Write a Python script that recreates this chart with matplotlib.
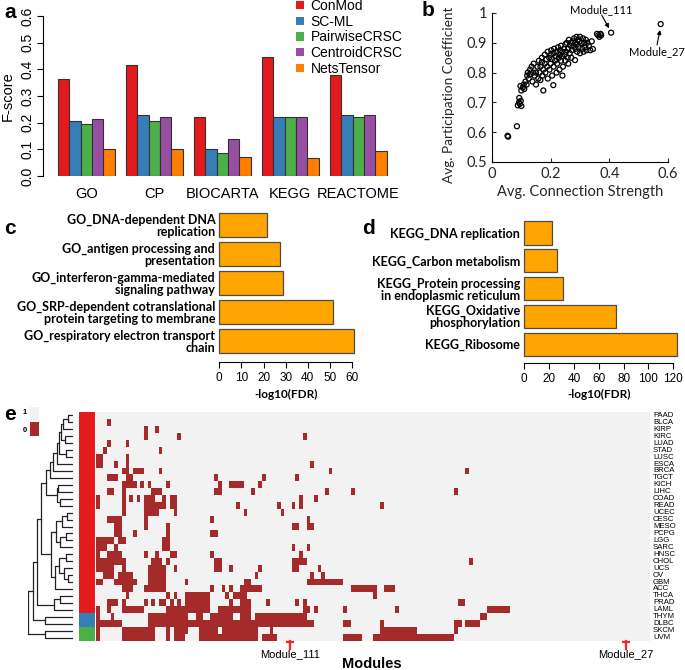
import matplotlib
matplotlib.use('Agg')
import matplotlib.pyplot as plt
import numpy as np
from matplotlib.colors import ListedColormap
from matplotlib.patches import Patch, Rectangle

plt.rcParams['font.family'] = ['Liberation Sans', 'DejaVu Sans']

# ---------------- data ----------------
# panel a
categories = ['GO', 'CP', 'BIOCARTA', 'KEGG', 'REACTOME']
methods = ['ConMod', 'SC-ML', 'PairwiseCRSC', 'CentroidCRSC', 'NetsTensor']
method_colors = ['#E41A1C', '#377EB8', '#4DAF4A', '#984EA3', '#FF7F00']
conmod = [0.364, 0.415, 0.223, 0.445, 0.377]
sc_ml = [0.206, 0.229, 0.102, 0.221, 0.229]
pairwise = [0.196, 0.208, 0.085, 0.220, 0.220]
centroid = [0.213, 0.223, 0.138, 0.221, 0.229]
netstensor = [0.102, 0.100, 0.071, 0.069, 0.094]

# panel b
conn_strength = [0.053, 0.055, 0.085, 0.088, 0.092, 0.095, 0.098, 0.100, 0.093, 0.097,
                 0.100, 0.105, 0.108, 0.110, 0.114, 0.118, 0.120, 0.122, 0.125, 0.130,
                 0.130, 0.135, 0.138, 0.140, 0.142, 0.145, 0.150, 0.150, 0.155, 0.158,
                 0.160, 0.162, 0.165, 0.165, 0.170, 0.170, 0.172, 0.175, 0.175, 0.180,
                 0.180, 0.182, 0.185, 0.188, 0.190, 0.190, 0.195, 0.196, 0.200, 0.200,
                 0.202, 0.205, 0.205, 0.210, 0.210, 0.212, 0.215, 0.209, 0.218, 0.220,
                 0.220, 0.222, 0.225, 0.228, 0.230, 0.230, 0.232, 0.235, 0.235, 0.238,
                 0.240, 0.240, 0.242, 0.245, 0.248, 0.250, 0.250, 0.252, 0.255, 0.258,
                 0.260, 0.260, 0.262, 0.265, 0.268, 0.270, 0.270, 0.272, 0.275, 0.278,
                 0.280, 0.283, 0.283, 0.285, 0.288, 0.290, 0.290, 0.293, 0.295, 0.298,
                 0.300, 0.300, 0.305, 0.308, 0.310, 0.312, 0.315, 0.318, 0.320, 0.322,
                 0.325, 0.330, 0.335, 0.340, 0.344, 0.358, 0.362, 0.366, 0.372, 0.370,
                 0.406, 0.575]
part_coef = [0.588, 0.585, 0.620, 0.690, 0.700, 0.695, 0.705, 0.688, 0.715, 0.755,
             0.740, 0.750, 0.760, 0.745, 0.770, 0.760, 0.790, 0.800, 0.780, 0.810,
             0.795, 0.820, 0.770, 0.800, 0.830, 0.790, 0.800, 0.760, 0.820, 0.780,
             0.840, 0.800, 0.775, 0.820, 0.835, 0.850, 0.790, 0.810, 0.740, 0.830,
             0.860, 0.800, 0.845, 0.820, 0.870, 0.780, 0.850, 0.810, 0.830, 0.860,
             0.875, 0.790, 0.845, 0.820, 0.865, 0.880, 0.840, 0.758, 0.855, 0.870,
             0.800, 0.830, 0.885, 0.850, 0.860, 0.810, 0.875, 0.840, 0.890, 0.855,
             0.870, 0.790, 0.820, 0.880, 0.860, 0.895, 0.840, 0.870, 0.900, 0.850,
             0.880, 0.830, 0.910, 0.865, 0.890, 0.900, 0.850, 0.875, 0.905, 0.890,
             0.915, 0.842, 0.900, 0.880, 0.920, 0.895, 0.870, 0.910, 0.885, 0.905,
             0.920, 0.865, 0.900, 0.880, 0.915, 0.870, 0.900, 0.885, 0.910, 0.875,
             0.900, 0.890, 0.875, 0.905, 0.879, 0.930, 0.925, 0.920, 0.925, 0.930,
             0.934, 0.963]

# panel c
go_terms = ['GO_DNA-dependent DNA\nreplication',
            'GO_antigen processing and\npresentation',
            'GO_interferon-gamma-mediated\nsignaling pathway',
            'GO_SRP-dependent cotranslational\nprotein targeting to membrane',
            'GO_respiratory electron transport\nchain']
go_fdr = [21.4, 27.4, 28.6, 51.5, 61.0]

# panel d
kegg_terms = ['KEGG_DNA replication',
              'KEGG_Carbon metabolism',
              'KEGG_Protein processing\nin endoplasmic reticulum',
              'KEGG_Oxidative\nphosphorylation',
              'KEGG_Ribosome']
kegg_fdr = [22.5, 26.0, 31.4, 73.6, 122.7]

# panel e
cancers = ['PAAD', 'BLCA', 'KIRP', 'KIRC', 'LUAD', 'STAD', 'LUSC', 'ESCA', 'BRCA', 'TGCT',
           'KICH', 'LIHC', 'COAD', 'READ', 'UCEC', 'CESC', 'MESO', 'PCPG', 'LGG', 'SARC',
           'HNSC', 'CHOL', 'UCS', 'OV', 'GBM', 'ACC', 'THCA', 'PRAD', 'LAML', 'THYM',
           'DLBC', 'SKCM', 'UVM']
cancer_group = [0] * 29 + [1, 1, 2, 2]
n_modules = 150
# runs of modules (first, last) where the cancer type has value 0 (dark red)
zero_runs = [
    [],
    [(3, 3)],
    [(13, 13), (16, 16)],
    [(13, 13), (22, 22), (56, 56)],
    [(3, 3), (8, 8)],
    [(2, 2), (17, 17)],
    [(0, 1), (8, 8)],
    [(0, 1), (5, 5), (8, 8), (58, 58)],
    [(7, 8), (10, 12), (17, 17), (63, 63), (100, 100)],
    [(3, 5), (8, 9), (32, 32), (45, 45), (54, 54)],
    [(7, 10), (12, 12), (14, 14), (19, 19), (33, 33), (36, 39), (44, 44)],
    [(3, 4), (7, 7), (15, 17), (32, 33), (42, 42), (62, 62), (69, 69), (97, 97)],
    [(0, 0), (7, 7), (9, 9), (11, 11), (13, 15), (18, 18), (20, 21), (55, 55), (59, 59)],
    [(0, 0), (7, 7), (13, 18), (20, 21), (38, 38), (49, 49), (53, 53), (55, 55), (77, 77)],
    [(7, 7), (13, 16), (21, 21), (40, 40), (50, 50)],
    [(3, 6), (13, 13), (31, 31), (57, 57)],
    [(5, 6), (13, 13), (19, 19), (53, 54), (57, 58)],
    [(5, 6), (10, 10), (19, 19), (31, 32)],
    [(0, 4), (6, 7), (18, 19)],
    [(0, 2), (5, 5), (18, 19), (53, 53), (57, 57)],
    [(0, 0), (3, 6), (13, 13), (16, 16), (20, 21), (31, 31), (55, 55)],
    [(0, 7), (15, 17), (19, 19), (32, 33), (53, 56), (101, 101)],
    [(0, 4), (7, 7), (14, 18), (21, 21), (32, 33), (36, 36), (44, 44), (53, 54), (60, 60)],
    [(2, 4), (6, 9), (14, 18), (43, 43), (58, 58), (61, 61)],
    [(0, 1), (5, 10), (14, 18), (24, 24), (40, 41), (57, 66)],
    [(7, 9), (13, 18), (31, 31), (34, 34), (36, 36), (39, 44), (69, 75), (78, 80)],
    [(8, 8), (19, 19), (21, 21), (24, 30), (35, 35), (37, 40), (75, 75)],
    [(3, 5), (7, 7), (13, 13), (15, 15), (17, 18), (20, 20), (22, 22), (24, 30), (36, 36),
     (39, 41), (46, 46), (54, 54), (56, 56), (98, 99)],
    [(0, 0), (3, 3), (7, 12), (19, 30), (33, 41), (56, 57), (59, 59), (67, 67), (81, 81),
     (106, 111)],
    [(0, 0), (4, 4), (14, 24), (27, 28), (31, 36), (39, 41), (43, 56), (104, 105)],
    [(0, 6), (14, 58), (67, 68), (77, 77), (97, 98), (100, 103)],
    [(0, 0), (7, 15), (19, 19), (21, 24), (28, 32), (34, 43), (47, 47), (77, 86), (97, 97)],
    [(0, 0), (7, 15), (19, 19), (21, 23), (28, 43), (45, 48), (67, 71), (75, 96)],
]
marked_modules = {'Module_111': 52, 'Module_27': 143}

# dendrogram of cancer types: (left, right, height), leaves are row indices
a1 = (0, 1, 0.11)
a2 = (a1, 2, 0.22)
a3 = (3, 4, 0.18)
a4 = (a2, a3, 0.26)
a5 = (5, 6, 0.15)
a6 = (a4, a5, 0.31)
a7 = (a6, 7, 0.36)
a8 = (a7, 8, 0.44)
tree_a = (a8, 9, 0.51)
tree_b = ((10, 11, 0.33), (12, 13, 0.29), 0.36)
c1 = ((14, 15, 0.14), 16, 0.25)
c2 = ((17, 18, 0.16), 19, 0.28)
c3 = ((20, 21, 0.15), (22, (23, 24, 0.12), 0.2), 0.32)
tree_c = ((c1, c2, 0.37), (c3, 25, 0.41), 0.5)
tree_d = ((26, 27, 0.3), 28, 0.42)
t_ab = (tree_a, tree_b, 0.6)
t_abc = (t_ab, tree_c, 0.72)
t_abcd = (t_abc, tree_d, 0.8)
t_abcde = (t_abcd, (29, 30, 0.63), 0.88)
cancer_tree = (t_abcde, (31, 32, 0.62), 1.0)

# ---------------- figure ----------------
W, H = 685, 670
fig = plt.figure(figsize=(W / 100, H / 100), dpi=100)


def px_axes(x0, y0, x1, y1):
    return fig.add_axes([x0 / W, 1 - y1 / H, (x1 - x0) / W, (y1 - y0) / H])


def fig_text(x, y, s, **kw):
    fig.text(x / W, 1 - y / H, s, **kw)


# ---- a ----
ax = px_axes(43, 16, 390, 176)
scores = [conmod, sc_ml, pairwise, centroid, netstensor]
for k, vals in enumerate(scores):
    xs = [6 * g + 1.5 + k for g in range(len(categories))]
    ax.bar(xs, vals, width=1, color=method_colors[k], edgecolor='#333333', linewidth=0.8)
ax.set_xlim(-0.33, 30.3)
ax.set_ylim(0, 0.6)
for s in ['top', 'right', 'bottom']:
    ax.spines[s].set_visible(False)
ax.set_yticks(np.arange(0, 0.61, 0.1))
ax.set_yticklabels(['%.1f' % v for v in np.arange(0, 0.61, 0.1)], rotation=90, va='center',
                   fontsize=10)
ax.set_xticks([6 * g + 3.5 for g in range(len(categories))])
ax.set_xticklabels(categories, fontsize=10.5)
ax.tick_params(axis='x', length=0, pad=8)
ax.tick_params(axis='y', length=4, pad=2)
ax.set_ylabel('F-score', fontsize=10.5, labelpad=4)
handles = [Patch(facecolor=c) for c in method_colors]
ax.legend(handles, methods, loc='upper left', bbox_to_anchor=(296 / W, 1 + 1 / H),
          bbox_transform=fig.transFigure, frameon=False, fontsize=10, handlelength=0.55,
          handleheight=0.55, handletextpad=0.5, labelspacing=0.12, borderpad=0,
          borderaxespad=0)
fig_text(4, 13, 'a', fontsize=15, fontweight='bold', va='center')

# ---- b ----
axb = px_axes(492, 13, 668, 162)
axb.scatter(conn_strength, part_coef, s=13, facecolors='none', edgecolors='black',
            linewidths=0.9, clip_on=False, zorder=3)
axb.set_xlim(0, 0.6)
axb.set_ylim(0.5, 1.0)
axb.spines['top'].set_visible(False)
axb.spines['right'].set_visible(False)
axb.set_xticks([0, 0.2, 0.4, 0.6])
axb.set_xticklabels(['0', '0.2', '0.4', '0.6'])
axb.set_yticks([0.5, 0.6, 0.7, 0.8, 0.9, 1.0])
axb.set_yticklabels(['0.5', '0.6', '0.7', '0.8', '0.9', '1'])
axb.tick_params(direction='in', length=3, labelsize=10.5, colors='#262626')
for lab in axb.get_xticklabels() + axb.get_yticklabels():
    lab.set_family('Lato')
axb.set_xlabel('Avg. Connection Strength', fontsize=10.5, color='#262626', labelpad=3,
               family='Lato')
axb.set_ylabel('Avg. Participation Coefficient', fontsize=9.8, color='#262626',
               family='Lato')
axb.yaxis.set_label_coords(-0.21, 0.45)
axb.text(0.372, 1.013, 'Module_111', ha='center', va='center', fontsize=8, family='Lato',
         clip_on=False)
axb.annotate('', xy=(0.399, 0.949), xytext=(0.374, 0.993), annotation_clip=False,
             arrowprops=dict(arrowstyle='-|>', color='black', lw=0.8, mutation_scale=6,
                             shrinkA=0, shrinkB=0))
axb.text(0.5625, 0.872, 'Module_27', ha='center', va='center', fontsize=8, family='Lato',
         clip_on=False)
axb.annotate('', xy=(0.573, 0.943), xytext=(0.5625, 0.893), annotation_clip=False,
             arrowprops=dict(arrowstyle='-|>', color='black', lw=0.8, mutation_scale=6,
                             shrinkA=0, shrinkB=0))
fig_text(422, 11, 'b', fontsize=15, fontweight='bold', va='center')

# ---- c ----
bar_orange = '#FFA500'
axc = px_axes(219.3, 208, 352, 362)
axc.barh(range(len(go_fdr)), go_fdr, height=0.83, color=bar_orange, edgecolor='#4d4d4d',
         linewidth=0.9, clip_on=False)
axc.set_xlim(0, 60)
axc.set_ylim(4.72, -0.586)
for s in ['top', 'right', 'left']:
    axc.spines[s].set_visible(False)
axc.set_yticks(range(len(go_terms)))
axc.set_yticklabels(go_terms, fontsize=9, fontweight='bold', family='Lato',
                    linespacing=1.0)
axc.tick_params(axis='y', length=0, pad=3)
axc.set_xticks(range(0, 61, 10))
axc.tick_params(axis='x', length=4, labelsize=8.5, pad=3)
axc.set_xlabel('-log10(FDR)', fontsize=8.5, fontweight='bold', family='Lato', labelpad=4)
fig_text(4, 229, 'c', fontsize=15, fontweight='bold', va='center')

# ---- d ----
axd = px_axes(524.3, 208, 673.3, 363)
axd.barh(range(len(kegg_fdr)), kegg_fdr, height=0.83, color=bar_orange,
         edgecolor='#4d4d4d', linewidth=0.9, clip_on=False)
axd.set_xlim(0, 120)
axd.set_ylim(4.68, -0.9)
for s in ['top', 'right', 'left']:
    axd.spines[s].set_visible(False)
axd.set_yticks(range(len(kegg_terms)))
axd.set_yticklabels(kegg_terms, fontsize=9, fontweight='bold', family='Lato',
                    linespacing=1.0)
axd.tick_params(axis='y', length=0, pad=3)
axd.set_xticks(range(0, 121, 20))
axd.tick_params(axis='x', length=4, labelsize=8.5, pad=3)
axd.set_xlabel('-log10(FDR)', fontsize=8.5, fontweight='bold', family='Lato', labelpad=3)
fig_text(362, 229, 'd', fontsize=15, fontweight='bold', va='center')

# ---- e ----
n_rows = len(cancers)
mat = np.ones((n_rows, n_modules))
for r, runs in enumerate(zero_runs):
    for a, b in runs:
        mat[r, a:b + 1] = 0
axe = px_axes(96, 412, 650, 641)
axe.imshow(mat, cmap=ListedColormap(['#A52A2A', '#F2F2F2']), vmin=0, vmax=1,
           aspect='auto', interpolation='nearest', extent=(0, n_modules, n_rows, 0))
axe.set_xlim(0, n_modules)
axe.set_ylim(n_rows, 0)
axe.axis('off')
for name, col in marked_modules.items():
    cx = col + 0.5
    axe.plot([cx, cx], [n_rows, n_rows + 1.1], color='#FF2020', lw=1.6, clip_on=False)
    axe.plot([cx - 0.9, cx + 0.9], [n_rows + 0.12, n_rows + 0.12], color='#FF2020', lw=1.6,
             clip_on=False)
    axe.text(cx, n_rows + 1.9, name, ha='center', va='center', fontsize=8, clip_on=False)
fig_text(372, 668, 'Modules', fontsize=10.5, fontweight='bold', ha='center', va='baseline')
for i, name in enumerate(cancers):
    fig_text(653, 412 + (i + 0.5) * 229 / n_rows, name, fontsize=5.6, va='center',
             ha='left')

axg = px_axes(79, 412, 95, 641)
axg.imshow(np.array(cancer_group).reshape(-1, 1),
           cmap=ListedColormap(['#E41A1C', '#377EB8', '#4DAF4A']), vmin=0, vmax=2,
           aspect='auto', interpolation='nearest', extent=(0, 1, n_rows, 0))
axg.axis('off')

axt = px_axes(28, 412, 73, 641)


def draw_tree(node):
    if isinstance(node, int):
        return node + 0.5, 0.0
    left, right, h = node
    yl, hl = draw_tree(left)
    yr, hr = draw_tree(right)
    axt.plot([hl, h, h, hr], [yl, yl, yr, yr], color='#222222', lw=0.9)
    return (yl + yr) / 2, h


draw_tree(cancer_tree)
axt.set_xlim(1.0, 0)
axt.set_ylim(n_rows, 0)
axt.axis('off')

fig.patches.append(Rectangle((30 / W, 1 - 420 / H), 9 / W, 13 / H, facecolor='#F2F2F2',
                             edgecolor='none', transform=fig.transFigure))
fig.patches.append(Rectangle((30 / W, 1 - 436 / H), 9 / W, 14 / H, facecolor='#A52A2A',
                             edgecolor='none', transform=fig.transFigure))
fig_text(25, 412, '1', fontsize=5.5, fontweight='bold', ha='center', va='center')
fig_text(25, 430, '0', fontsize=5.5, fontweight='bold', ha='center', va='center')
fig_text(4, 414, 'e', fontsize=15, fontweight='bold', va='center')

fig.savefig('out.png', dpi=100)
